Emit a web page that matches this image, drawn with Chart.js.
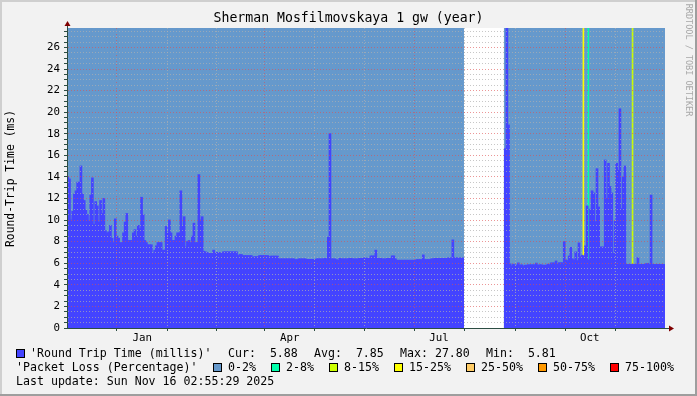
<!DOCTYPE html>
<html>
<head>
<meta charset="utf-8">
<script src="https://cdn.jsdelivr.net/npm/chart.js@4"></script>
<style>
html, body { margin: 0; padding: 0; background: #f2f2f2; }
canvas { display: block; }
</style>
</head>
<body>
<canvas id="rttChart" width="697" height="396"></canvas>
<script>
// one value per day, day 0 = 16 Nov 2024, last day = 15 Nov 2025
const rttMillis = [
  14.0, 13.8, 10.0, 10.8, 12.4, 12.7, 13.5, 13.5, 15.0, 12.4,
  11.8, 10.9, 10.5, 9.9, 12.3, 13.9, 9.6, 11.7, 11.3, 9.8,
  11.8, 10.6, 12.0, 9.0, 8.8, 8.9, 9.5, 8.3, 7.9, 10.1,
  8.5, 8.3, 7.9, 7.9, 8.8, 9.8, 10.6, 8.1, 8.1, 8.1,
  8.8, 9.1, 8.5, 9.5, 9.2, 12.1, 10.5, 8.1, 7.9, 7.7,
  7.7, 7.7, 6.9, 7.2, 7.6, 7.9, 7.9, 7.9, 7.2, 7.2,
  9.4, 8.8, 10.0, 8.8, 8.1, 8.1, 8.5, 8.8, 8.8, 12.7,
  9.4, 10.3, 7.5, 8.0, 8.1, 7.9, 8.5, 9.7, 7.9, 7.9,
  14.2, 10.0, 10.3, 7.1, 7.05, 7.0, 6.9, 6.9, 6.9, 7.2,
  7.0, 7.0, 7.0, 6.95, 6.95, 7.05, 7.05, 7.05, 7.05, 7.05,
  7.05, 7.05, 7.05, 7.05, 6.7, 6.8, 6.8, 6.7, 6.7, 6.7,
  6.7, 6.7, 6.7, 6.55, 6.6, 6.6, 6.6, 6.7, 6.7, 6.7,
  6.7, 6.7, 6.7, 6.6, 6.65, 6.65, 6.65, 6.65, 6.65, 6.4,
  6.4, 6.4, 6.4, 6.4, 6.4, 6.4, 6.4, 6.4, 6.4, 6.33,
  6.33, 6.4, 6.4, 6.4, 6.4, 6.4, 6.35, 6.35, 6.35, 6.35,
  6.35, 6.35, 6.4, 6.4, 6.4, 6.4, 6.4, 6.44, 6.4, 8.4,
  18.0, 6.4, 6.4, 6.4, 6.33, 6.27, 6.44, 6.4, 6.4, 6.4,
  6.4, 6.4, 6.44, 6.44, 6.4, 6.4, 6.4, 6.4, 6.44, 6.44,
  6.44, 6.48, 6.48, 6.44, 6.44, 6.67, 6.67, 6.67, 7.2, 6.44,
  6.44, 6.44, 6.4, 6.4, 6.4, 6.44, 6.44, 6.44, 6.67, 6.67,
  6.4, 6.27, 6.27, 6.27, 6.27, 6.27, 6.27, 6.27, 6.27, 6.27,
  6.27, 6.27, 6.27, 6.33, 6.33, 6.33, 6.33, 6.76, 6.33, 6.33,
  6.33, 6.33, 6.4, 6.4, 6.44, 6.44, 6.44, 6.44, 6.44, 6.44,
  6.44, 6.44, 6.48, 6.48, 6.48, 8.15, 6.5, 6.5, 6.48, 6.48,
  6.48, 6.48, null, null, null, null, null, null, null, null,
  null, null, null, null, null, null, null, null, null, null,
  null, null, null, null, null, null, null, 16.6, 27.8, 18.8,
  5.93, 5.75, 5.9, 5.82, 5.82, 6.02, 5.81, 5.85, 5.74, 5.81,
  5.81, 5.85, 5.85, 5.85, 5.85, 5.85, 6.0, 5.81, 5.85, 5.85,
  5.81, 5.81, 5.81, 5.9, 5.85, 6.02, 6.02, 6.02, 6.2, 5.9,
  6.04, 6.04, 6.04, 8.0, 6.3, 6.23, 6.66, 7.46, 6.4, 6.3,
  7.04, 6.23, 7.87, 6.6, 6.73, 6.67, 7.6, 11.3, 6.3, 11.0,
  12.7, 12.5, 9.85, 14.75, 11.2, 7.5, 7.5, 7.5, 15.55, 12.0,
  15.25, 13.1, 12.5, 6.9, 9.9, 15.25, 14.6, 20.3, 11.05, 14.0,
  15.0, 5.88, 5.88, 5.88, 5.88, 5.88, 5.88, 5.88, 6.5, 5.88,
  5.88, 5.88, 5.88, 5.95, 5.98, 5.88, 12.3, 5.88, 5.88, 5.88,
  5.88, 5.88, 5.88, 5.88, 5.88
];

// packet loss per day, percent
const lossPct = [
  0,0,0,0,0,0,0,0,0,0,0,0,0,0,0,0,0,0,0,0,
  0,0,0,0,0,0,0,0,0,0,0,0,0,0,0,0,0,0,0,0,
  0,0,0,0,0,0,0,0,0,0,0,0,0,0,0,0,0,0,0,0,
  0,0,0,0,0,0,0,0,0,0,0,0,0,0,0,0,0,0,0,0,
  0,0,0,0,0,0,0,0,0,0,0,0,0,0,0,0,0,0,0,0,
  0,0,0,0,0,0,0,0,0,0,0,0,0,0,0,0,0,0,0,0,
  0,0,0,0,0,0,0,0,0,0,0,0,0,0,0,0,0,0,0,0,
  0,0,0,0,0,0,0,0,0,0,0,0,0,0,0,0,0,0,0,0,
  0,0,0,0,0,0,0,0,0,0,0,0,0,0,0,0,0,0,0,0,
  0,0,0,0,0,0,0,0,0,0,0,0,0,0,0,0,0,0,0,0,
  0,0,0,0,0,0,0,0,0,0,0,0,0,0,0,0,0,0,0,0,
  0,0,0,0,0,0,0,0,0,0,0,0,0,0,0,0,0,0,0,0,
  0,0,null,null,null,null,null,null,null,null,null,null,null,null,null,null,null,null,null,null,
  null,null,null,null,null,null,null,0,0,0,0,0,0,0,0,0,0,0,0,0,
  0,0,0,0,0,0,0,0,0,0,0,0,0,0,0,0,0,0,0,0,
  0,0,0,0,0,0,0,0,0,0,0,0,0,0,0,20,0,0,5,0,
  0,0,0,0,0,0,0,0,0,0,0,0,0,0,0,0,0,0,0,0,
  0,0,0,0,0,10,0,0,0,0,0,0,0,0,0,0,0,0,0,0,
  0,0,0,0,0
];

// month starts, as day offsets
const monthDays = [15, 46, 77, 105, 136, 166, 197, 227, 258, 289, 319, 350];
const monthLabels = ['', 'Jan', '', '', 'Apr', '', '', 'Jul', '', '', 'Oct', ''];

const lossBandLabels = ['0-2%', '2-8%', '8-15%', '15-25%', '25-50%', '50-75%', '75-100%'];
const lossBandUpper = [2, 8, 15, 25, 50, 75, 100];
const lossBandColors = ['#6699cc', '#00ffaa', '#ccff00', '#ffff00', '#ffcc66', '#ff9900', '#ff0000'];

const statLabels = ['Cur:  5.88', 'Avg:  7.85', 'Max: 27.80', 'Min:  5.81'];

const TITLE = 'Sherman Mosfilmovskaya 1 gw (year)';
const Y_TITLE = 'Round-Trip Time (ms)';
const RTT_LEGEND = "'Round Trip Time (millis)'";
const LOSS_LEGEND = "'Packet Loss (Percentage)'";
const LAST_UPDATE = 'Last update: Sun Nov 16 02:55:29 2025';
const DAYS = 365;
const Y_MAX = 27.8;

const RTT_COLOR = '#4444ff';
const MAJOR_GRID = 'rgba(222,80,80,0.6)';
const MINOR_GRID = 'rgba(175,175,175,0.7)';
const AXIS_COLOR = '#2c4d43';
const ARROW_COLOR = '#7f0000';
const MONO = '"DejaVu Sans Mono", monospace';

function lossColor(p) {
  const i = lossBandUpper.findIndex(u => p <= u);
  return lossBandColors[i < 0 ? lossBandColors.length - 1 : i];
}

const rttPoints = [];
const lossPoints = [];
rttMillis.forEach((v, i) => {
  if (v !== null) rttPoints.push({x: i + 0.5, y: v});
});
lossPct.forEach((p, i) => {
  if (p !== null) lossPoints.push({x: i + 0.5, y: Y_MAX, loss: p});
});

function box(c, x, y, color) {
  c.fillStyle = color;
  c.fillRect(x, y - 4, 8, 8);
  c.strokeStyle = '#000';
  c.lineWidth = 1;
  c.strokeRect(x + 0.5, y - 4.5, 8, 8);
}

const rrdDecor = {
  id: 'rrdDecor',
  beforeDraw(chart) {
    const c = chart.ctx, a = chart.chartArea;
    const W = chart.width, H = chart.height;
    c.save();
    c.fillStyle = '#f2f2f2';
    c.fillRect(0, 0, W, H);
    c.fillStyle = '#cfcfcf';
    c.fillRect(0, 0, W, 2);
    c.fillRect(0, 0, 2, H);
    c.fillStyle = '#9e9e9e';
    c.fillRect(0, H - 2, W, 2);
    c.fillRect(W - 2, 0, 2, H);
    c.fillStyle = '#ffffff';
    c.fillRect(a.left, a.top, a.right - a.left, a.bottom - a.top);
    c.restore();
  },
  afterDraw(chart) {
    const c = chart.ctx, a = chart.chartArea;
    c.save();
    // axis extensions + arrows
    c.strokeStyle = AXIS_COLOR;
    c.lineWidth = 1;
    c.beginPath();
    c.moveTo(a.left + 0.5, a.top);
    c.lineTo(a.left + 0.5, a.top - 3);
    c.moveTo(a.right, a.bottom + 0.5);
    c.lineTo(a.right + 5, a.bottom + 0.5);
    c.stroke();
    c.fillStyle = ARROW_COLOR;
    c.beginPath();
    c.moveTo(a.left + 0.5, a.top - 7);
    c.lineTo(a.left - 2.5, a.top - 2);
    c.lineTo(a.left + 3.5, a.top - 2);
    c.closePath();
    c.fill();
    c.beginPath();
    c.moveTo(a.right + 9, a.bottom + 0.5);
    c.lineTo(a.right + 4, a.bottom - 2.5);
    c.lineTo(a.right + 4, a.bottom + 3.5);
    c.closePath();
    c.fill();

    // titles
    c.fillStyle = '#000';
    c.textBaseline = 'middle';
    c.textAlign = 'center';
    c.font = '13.2px ' + MONO;
    c.fillText(TITLE, 348.5, 19);
    c.save();
    c.translate(11, 178.5);
    c.rotate(-Math.PI / 2);
    c.font = '11.4px ' + MONO;
    c.fillText(Y_TITLE, 0, 0);
    c.restore();
    c.save();
    c.translate(688, 60);
    c.rotate(Math.PI / 2);
    c.fillStyle = '#a8a8a8';
    c.font = '8.5px ' + MONO;
    c.fillText('RRDTOOL / TOBI OETIKER', 0, 0);
    c.restore();

    // legend
    c.textAlign = 'left';
    c.font = '11.6px ' + MONO;
    box(c, 16, 354, RTT_COLOR);
    c.fillStyle = '#000';
    c.fillText(RTT_LEGEND, 30, 354);
    const statX = [228, 314, 400, 486];
    statLabels.forEach((s, i) => c.fillText(s, statX[i], 354));
    c.fillText(LOSS_LEGEND, 16, 368);
    const swatchX = [213, 271, 329, 394, 466, 538, 610];
    lossBandLabels.forEach((l, i) => {
      box(c, swatchX[i], 368, lossBandColors[i]);
      c.fillStyle = '#000';
      c.fillText(l, swatchX[i] + 15, 368);
    });
    c.fillText(LAST_UPDATE, 16, 382);
    c.restore();
  }
};

const ctx = document.getElementById('rttChart').getContext('2d');
const chart = new Chart(ctx, {
  type: 'bar',
  data: {
    datasets: [
      {label: 'Round Trip Time', data: rttPoints, backgroundColor: RTT_COLOR, order: 1},
      {label: 'Packet Loss', data: lossPoints, backgroundColor: c => lossColor(c.raw ? c.raw.loss : 0), order: 2}
    ]
  },
  options: {
    responsive: false,
    animation: false,
    devicePixelRatio: 1,
    layout: {padding: {top: 28, right: 32, left: 0, bottom: 0}},
    datasets: {bar: {barPercentage: 1, categoryPercentage: 1, grouped: false, borderWidth: 0, inflateAmount: 0.5}},
    plugins: {legend: {display: false}, tooltip: {enabled: false}},
    scales: {
      x: {
        type: 'linear',
        min: 0,
        max: DAYS,
        offset: false,
        afterBuildTicks: s => { s.ticks = monthDays.map(d => ({value: d})); },
        afterFit: s => { s.height = 68; },
        grid: {
          z: 1,
          color: c => (monthLabels[c.index] ? MAJOR_GRID : MINOR_GRID),
          tickColor: AXIS_COLOR,
          tickLength: 3
        },
        border: {color: AXIS_COLOR, dash: [1, 2], z: 2},
        ticks: {
          autoSkip: false,
          maxRotation: 0,
          padding: 1,
          color: '#000',
          font: {family: MONO, size: 10.8},
          callback: (v, i) => monthLabels[i]
        }
      },
      y: {
        min: 0,
        max: Y_MAX,
        afterBuildTicks: s => {
          const t = [];
          for (let v = 0; v <= 27.5; v += 0.5) t.push({value: v});
          s.ticks = t;
        },
        afterFit: s => { s.width = 67; },
        grid: {
          z: 1,
          color: c => (c.tick && c.tick.value % 2 === 0 ? MAJOR_GRID : MINOR_GRID),
          tickColor: AXIS_COLOR,
          tickLength: 3
        },
        border: {color: AXIS_COLOR, dash: [1, 2], z: 2},
        ticks: {
          autoSkip: false,
          padding: 4,
          color: '#000',
          font: {family: MONO, size: 10.8},
          callback: v => (v % 2 === 0 ? String(v) : '')
        }
      }
    }
  },
  plugins: [rrdDecor]
});
</script>
</body>
</html>
